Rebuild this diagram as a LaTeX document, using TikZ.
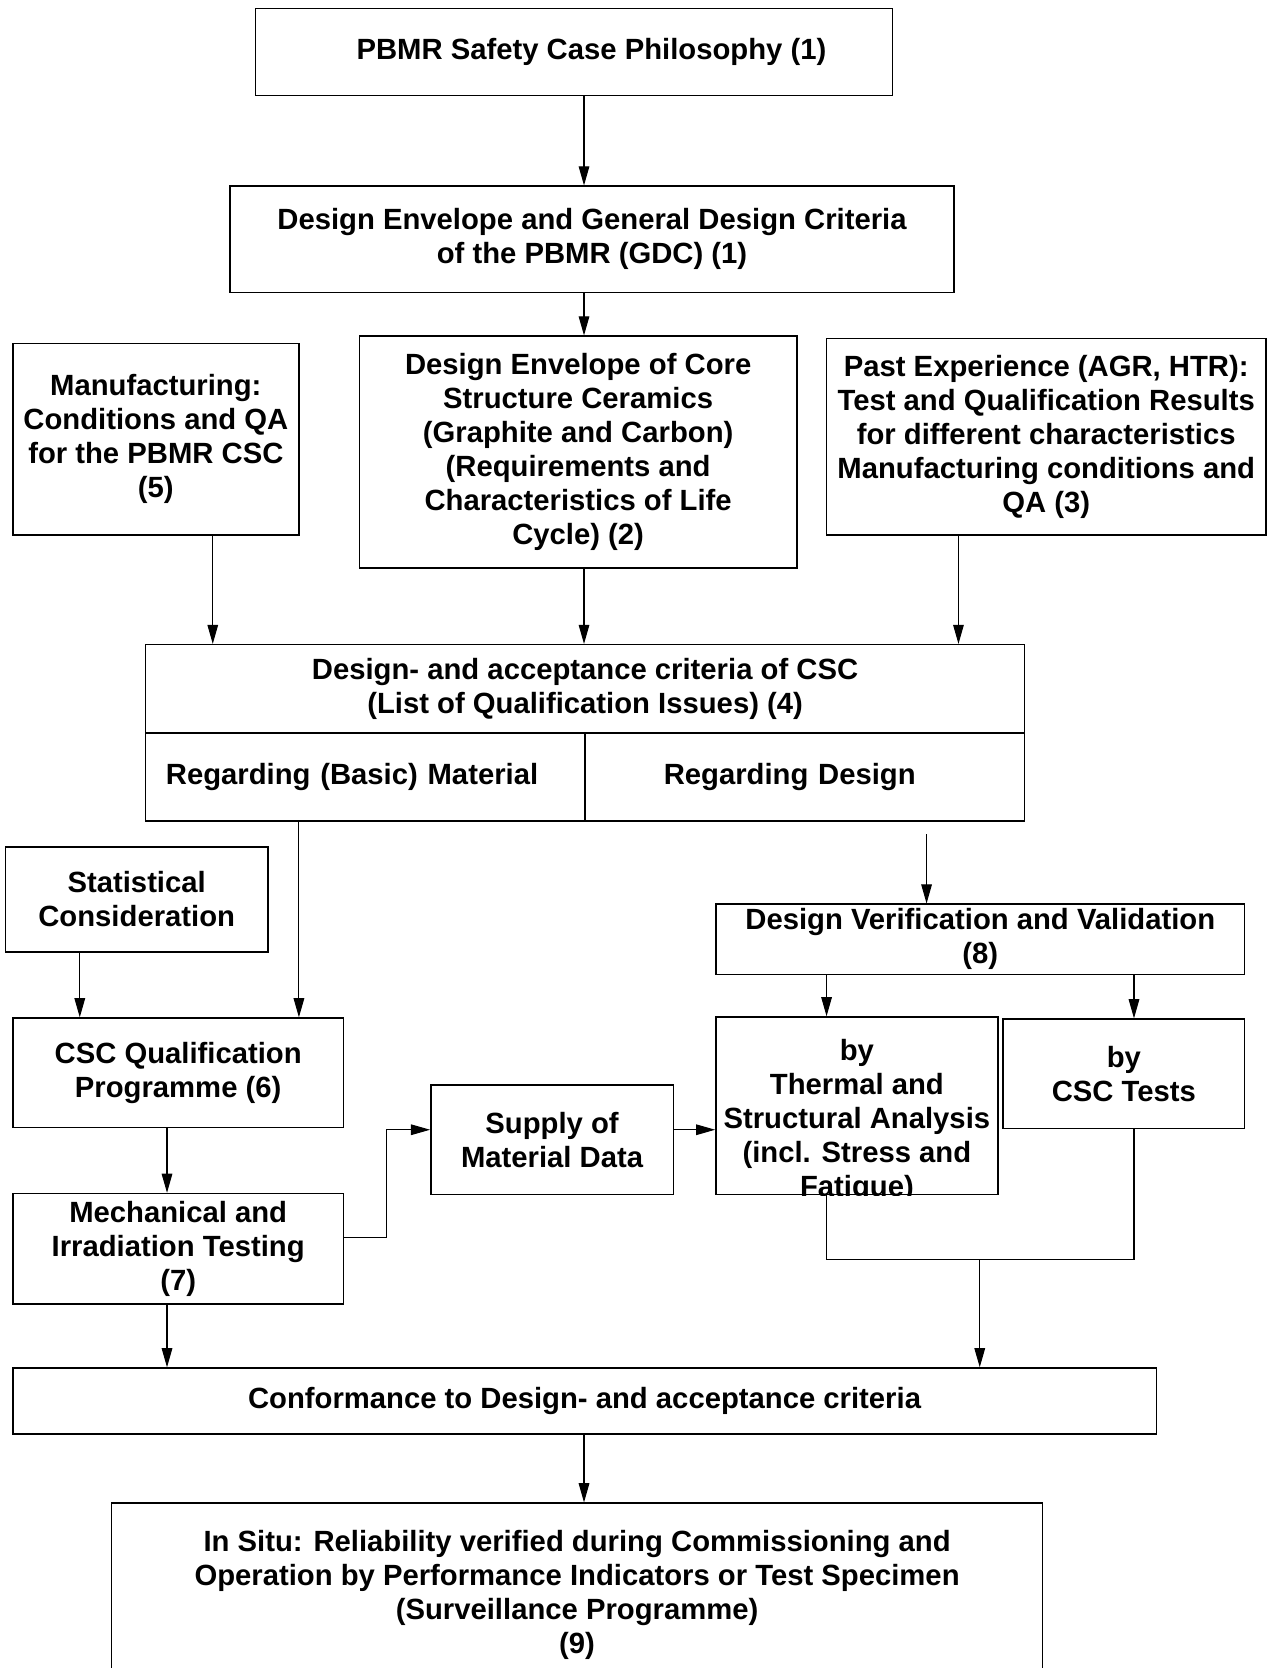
\documentclass[tikz,border=0pt]{standalone}
\usepackage{fontspec}
\setmainfont{Liberation Sans}
\usetikzlibrary{arrows.meta}

\begin{document}
\begin{tikzpicture}[x=0.5pt, y=-0.5pt,
    box/.style={draw, line width=0.7pt, align=center, inner sep=1pt,
        font=\fontsize{13.75}{16}\selectfont\bfseries},
    txt/.style={align=center, inner sep=0pt,
        font=\fontsize{13.75}{16}\selectfont\bfseries},
    arr/.style={line width=0.5pt, -{Triangle[length=9pt,width=5pt]}},
    ln/.style={line width=0.5pt}]
    \useasboundingbox (0,0) rectangle (1192,1568);
    \clip (0,0) rectangle (1192,1568);

    % Top of the chain
    \node[box, minimum width=299.5pt, minimum height=41pt] (phil) at (539.5,49)
        {\hspace*{16.5pt}PBMR Safety Case Philosophy (1)};
    \node[box, minimum width=340.5pt, minimum height=50pt] (gdc) at (556.5,225)
        {Design Envelope and General Design Criteria\\ of the PBMR (GDC) (1)};

    % Inputs
    \node[box, minimum width=134.5pt, minimum height=90pt] (manu) at (146.5,413)
        {Manufacturing:\\ Conditions and QA\\ for the PBMR CSC\\ (5)};
    \node[box, minimum width=205.5pt, minimum height=109pt] (core) at (543.5,425)
        {Design Envelope of Core\\ Structure Ceramics\\ (Graphite and Carbon)\\ (Requirements and\\ Characteristics of Life\\ Cycle) (2)};
    \node[box, minimum width=206.5pt, minimum height=92.5pt] (past) at (983.5,410.5)
        {Past Experience (AGR, HTR):\\ Test and Qualification Results\\ for different characteristics\\ Manufacturing conditions and\\ QA (3)};

    % Criteria box with two cells
    \node[box, minimum width=413pt, minimum height=41.5pt] (crit) at (550,647.5)
        {Design- and acceptance criteria of CSC\\ (List of Qualification Issues) (4)};
    \node[box, align=left, text width=187.5pt, inner xsep=9.5pt, minimum height=41.5pt] (crmat) at (343.5,730.5)
        {Regarding (Basic) Material};
    \node[box, align=left, text width=132.5pt, inner xsep=37pt, minimum height=41.5pt] (crdes) at (756.5,730.5)
        {Regarding Design};

    % Material side
    \node[box, minimum width=123.5pt, minimum height=49.5pt] (stat) at (128.5,845.5)
        {Statistical\\ Consideration};
    \node[box, minimum width=155.5pt, minimum height=51.5pt] (qual) at (167.5,1008.5)
        {CSC Qualification\\ Programme (6)};
    \node[box, minimum width=155.5pt, minimum height=52pt] (mech) at (167.5,1174)
        {Mechanical and\\ Irradiation Testing\\ (7)};
    \node[box, minimum width=114pt, minimum height=51.5pt] (supply) at (519,1071.5)
        {Supply of\\ Material Data};

    % Design side
    \node[box, minimum width=248.5pt, minimum height=33pt] (dvv) at (921.5,883)
        {Design Verification and Validation\\ (8)};
    \node[box, minimum width=132.5pt, minimum height=83.5pt] (thermal) at (805.5,1039.5) {};
    \begin{scope}
        \clip (thermal.south west) rectangle (thermal.north east);
        \node[txt] (thtxt) at (805.5,1054)
            {by\\ Thermal and\\ Structural Analysis\\ (incl. Stress and\\ Fatigue)};
    \end{scope}
    \node[box, minimum width=113.5pt, minimum height=51.5pt] (tests) at (1056.5,1009.5)
        {by\\ CSC Tests};

    % Bottom
    \node[box, minimum width=537.5pt, minimum height=31pt] (conf) at (549.5,1317)
        {Conformance to Design- and acceptance criteria};
    \node[box, minimum width=437.5pt, minimum height=86pt] (insitu) at (542.5,1499)
        {In Situ: Reliability verified during Commissioning and\\ Operation by Performance Indicators or Test Specimen\\ (Surveillance Programme)\\ (9)};

    % Connector columns
    \coordinate (cmid) at (549,0);
    \coordinate (cmanu) at (200,0);
    \coordinate (cpast) at (901,0);
    \coordinate (cmat) at (281,0);
    \coordinate (cstat) at (75,0);
    \coordinate (cqual) at (157,0);
    \coordinate (cth) at (777,0);
    \coordinate (cte) at (1066,0);
    \coordinate (dvin) at (871,784);
    \coordinate (bend1) at (363,1163);
    \coordinate (bend2) at (363,1062);
    \coordinate (jn) at (921,1184);

    % Arrows
    \draw[arr] (phil.south -| cmid) -- (gdc.north -| cmid);
    \draw[arr] (gdc.south -| cmid) -- (core.north -| cmid);
    \draw[arr] (manu.south -| cmanu) -- (crit.north -| cmanu);
    \draw[arr] (core.south -| cmid) -- (crit.north -| cmid);
    \draw[arr] (past.south -| cpast) -- (crit.north -| cpast);
    \draw[arr] (crmat.south -| cmat) -- (qual.north -| cmat);
    \draw[arr] (dvin) -- (dvv.north -| dvin);
    \draw[arr] (stat.south -| cstat) -- (qual.north -| cstat);
    \draw[arr] (qual.south -| cqual) -- (mech.north -| cqual);
    \draw[arr] (mech.east |- bend1) -- (bend1) -- (bend2) -- (supply.west |- bend2);
    \draw[arr] (supply.east |- bend2) -- (thermal.west |- bend2);
    \draw[arr] (dvv.south -| cth) -- (thermal.north -| cth);
    \draw[arr] (dvv.south -| cte) -- (tests.north -| cte);
    \draw[ln] (thermal.south -| cth) |- (jn) -| (tests.south -| cte);
    \draw[arr] (jn) -- (conf.north -| jn);
    \draw[arr] (mech.south -| cqual) -- (conf.north -| cqual);
    \draw[arr] (conf.south -| cmid) -- (insitu.north -| cmid);
\end{tikzpicture}
\end{document}
